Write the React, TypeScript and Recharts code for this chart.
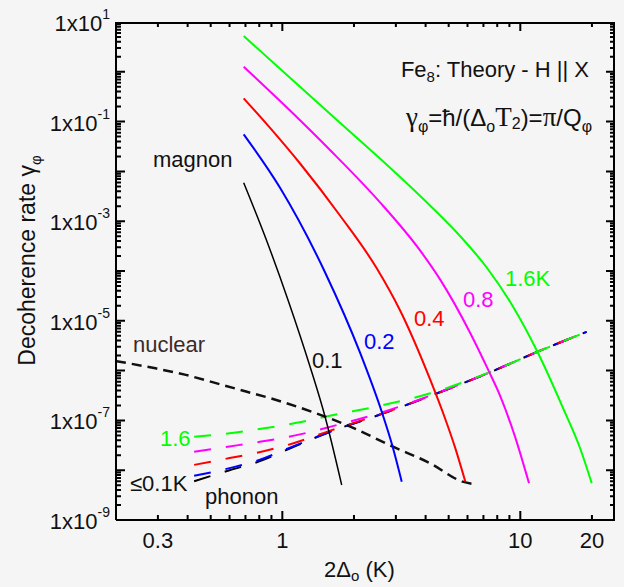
import React from "react";
import { LineChart, Line, XAxis, YAxis } from "recharts";

const FONT = "'Liberation Sans', Arial, Helvetica, sans-serif";
const SERIF = "'Liberation Serif', 'Times New Roman', serif";

// magnon contribution (solid), x = 2Δo in K, y = decoherence rate
const magnon01 = [
  { x: 0.688, y: 5.93e-3 },
  { x: 0.854, y: 4.39e-4 },
  { x: 1.06, y: 2.51e-5 },
  { x: 1.307, y: 1.21e-6 },
  { x: 1.511, y: 1.2e-7 },
  { x: 1.776, y: 5.05e-9 },
];
const magnon02 = [
  { x: 0.688, y: 0.0556 },
  { x: 0.978, y: 4.69e-3 },
  { x: 1.511, y: 9.46e-5 },
  { x: 2.121, y: 2.29e-6 },
  { x: 2.624, y: 1.43e-7 },
  { x: 2.89, y: 3.28e-8 },
  { x: 3.175, y: 5.88e-9 },
];
const magnon04 = [
  { x: 0.688, y: 0.2937 },
  { x: 0.888, y: 0.0747 },
  { x: 1.187, y: 0.01441 },
  { x: 1.747, y: 1.3e-3 },
  { x: 2.5, y: 1.11e-4 },
  { x: 3.122, y: 1.63e-5 },
  { x: 4.174, y: 6.72e-7 },
  { x: 4.83, y: 1.09e-7 },
  { x: 5.318, y: 2.87e-8 },
  { x: 5.875, y: 5.88e-9 },
];
const magnon08 = [
  { x: 0.688, y: 1.266 },
  { x: 1.077, y: 0.167 },
  { x: 1.586, y: 0.0269 },
  { x: 2.573, y: 2.39e-3 },
  { x: 3.79, y: 2.59e-4 },
  { x: 4.6, y: 6.78e-5 },
  { x: 6.15, y: 5.77e-6 },
  { x: 7.34, y: 1.02e-6 },
  { x: 8.22, y: 3.15e-7 },
  { x: 9.5, y: 4.71e-8 },
  { x: 10.88, y: 5.46e-9 },
];
const magnon16 = [
  { x: 0.688, y: 5.24 },
  { x: 1.077, y: 0.761 },
  { x: 1.747, y: 0.095 },
  { x: 2.835, y: 0.01187 },
  { x: 4.174, y: 2.07e-3 },
  { x: 5.58, y: 5.04e-4 },
  { x: 7.25, y: 1.15e-4 },
  { x: 9.23, y: 2.08e-5 },
  { x: 11.76, y: 2.47e-6 },
  { x: 15.12, y: 1.77e-7 },
  { x: 17.82, y: 2.79e-8 },
  { x: 19.96, y: 5.46e-9 },
];

// phonon contribution (long dashes)
const phononLow = [
  { x: 0.426, y: 6.0e-9 },
  { x: 0.6, y: 1.0e-8 },
  { x: 0.8, y: 1.5e-8 },
  { x: 1.05, y: 2.6e-8 },
  { x: 1.6, y: 6.0e-8 },
  { x: 2.62, y: 1.35e-7 },
  { x: 4.19, y: 3.1e-7 },
  { x: 7.4, y: 9.1e-7 },
  { x: 11.84, y: 2.4e-6 },
  { x: 19.0, y: 6.0e-6 },
];
const phonon02 = [
  { x: 0.426, y: 7.7e-9 },
  { x: 0.6, y: 1.1e-8 },
  { x: 0.8, y: 1.6e-8 },
  { x: 1.05, y: 2.7e-8 },
  { x: 1.6, y: 6.0e-8 },
  { x: 2.62, y: 1.35e-7 },
  { x: 4.19, y: 3.1e-7 },
  { x: 7.4, y: 9.1e-7 },
  { x: 11.84, y: 2.4e-6 },
  { x: 19.0, y: 6.0e-6 },
];
const phonon04 = [
  { x: 0.426, y: 1.28e-8 },
  { x: 0.6, y: 1.75e-8 },
  { x: 0.8, y: 2.3e-8 },
  { x: 1.05, y: 3.2e-8 },
  { x: 1.6, y: 6.3e-8 },
  { x: 2.62, y: 1.37e-7 },
  { x: 4.19, y: 3.1e-7 },
  { x: 7.4, y: 9.1e-7 },
  { x: 11.84, y: 2.4e-6 },
  { x: 19.0, y: 6.0e-6 },
];
const phonon08 = [
  { x: 0.426, y: 2.35e-8 },
  { x: 0.6, y: 3.0e-8 },
  { x: 0.8, y: 3.7e-8 },
  { x: 1.2, y: 5.3e-8 },
  { x: 1.6, y: 7.5e-8 },
  { x: 2.62, y: 1.45e-7 },
  { x: 4.19, y: 3.15e-7 },
  { x: 7.4, y: 9.1e-7 },
  { x: 11.84, y: 2.4e-6 },
  { x: 19.0, y: 6.0e-6 },
];
const phonon16 = [
  { x: 0.426, y: 4.7e-8 },
  { x: 0.6, y: 5.5e-8 },
  { x: 0.8, y: 6.7e-8 },
  { x: 1.2, y: 9.3e-8 },
  { x: 1.6, y: 1.25e-7 },
  { x: 2.62, y: 2.0e-7 },
  { x: 4.19, y: 3.5e-7 },
  { x: 7.4, y: 9.2e-7 },
  { x: 11.84, y: 2.4e-6 },
  { x: 19.0, y: 6.0e-6 },
];

// nuclear spin bath (short dashes)
const nuclear = [
  { x: 0.2, y: 1.55e-6 },
  { x: 0.293, y: 1.11e-6 },
  { x: 0.393, y: 8.2e-7 },
  { x: 0.526, y: 5.6e-7 },
  { x: 0.704, y: 3.8e-7 },
  { x: 0.943, y: 2.57e-7 },
  { x: 1.326, y: 1.5e-7 },
  { x: 1.93, y: 7.5e-8 },
  { x: 2.9, y: 3.0e-8 },
  { x: 4.19, y: 1.37e-8 },
  { x: 5.72, y: 5.9e-9 },
  { x: 6.5, y: 5.2e-9 },
];

const X_MIN = 0.2;
const X_MAX = 25;
const Y_MIN = 1e-9;
const Y_MAX = 10;

const xTicks = [0.2, 0.3, 0.4, 0.5, 0.6, 0.7, 0.8, 0.9, 1, 2, 3, 4, 5, 6, 7, 8, 9, 10, 20];
const xMajor = [1, 10];
const xLabels = [0.3, 1, 10, 20];
const yDecades = [-9, -8, -7, -6, -5, -4, -3, -2, -1, 0, 1];
const yLabelExps = [1, -1, -3, -5, -7, -9];

const yTicks: number[] = [];
yDecades.forEach((d) => {
  for (let k = 1; k <= 9; k++) {
    if (d === 1 && k > 1) break;
    yTicks.push(k * Math.pow(10, d));
  }
});

const decadeOf = (v: number) => {
  const l = Math.log10(v);
  return Math.abs(l - Math.round(l)) < 1e-6 ? Math.round(l) : null;
};

// inward tick lengths as factors along the log axes (about 9px / 5px)
const yLong = Math.pow(10, 9 / 49.8);
const yShort = Math.pow(10, 5 / 49.8);
const xLong = Math.pow(10, 9 / 238);
const xShort = Math.pow(10, 5 / 238);

// tick marks as zig-zag paths: out along the tick and back onto the frame
const bottomTicks = xTicks.flatMap((v) => {
  const f = xMajor.includes(v) ? yLong : yShort;
  return [
    { x: v, y: Y_MIN },
    { x: v, y: Y_MIN * f },
    { x: v, y: Y_MIN },
  ];
});
const topTicks = xTicks.flatMap((v) => {
  const f = xMajor.includes(v) ? yLong : yShort;
  return [
    { x: v, y: Y_MAX },
    { x: v, y: Y_MAX / f },
    { x: v, y: Y_MAX },
  ];
});
const leftTicks = yTicks.flatMap((v) => {
  const f = decadeOf(v) !== null ? xLong : xShort;
  return [
    { x: X_MIN, y: v },
    { x: X_MIN * f, y: v },
    { x: X_MIN, y: v },
  ];
});
const rightTicks = yTicks.flatMap((v) => {
  const f = decadeOf(v) !== null ? xLong : xShort;
  return [
    { x: X_MAX, y: v },
    { x: X_MAX / f, y: v },
    { x: X_MAX, y: v },
  ];
});
const topFrame = [
  { x: X_MIN, y: Y_MAX },
  { x: X_MAX, y: Y_MAX },
];
const rightFrame = [
  { x: X_MAX, y: Y_MIN },
  { x: X_MAX, y: Y_MAX },
];

const W = 624;
const H = 587;

const BottomTick = (props: any) => {
  const { x, y, payload } = props;
  const v = payload.value;
  if (!xLabels.includes(v)) return <g />;
  return (
    <text x={x} y={y + 20} textAnchor="middle" fontSize={22} fontFamily={FONT} fill="#111">
      {v}
    </text>
  );
};

const LeftTick = (props: any) => {
  const { x, y, payload } = props;
  const d = decadeOf(payload.value);
  if (d === null || !yLabelExps.includes(d)) return <g />;
  return (
    <text x={x + 2} y={y + 9} textAnchor="end" fontSize={22} fontFamily={FONT} fill="#111">
      1x10
      <tspan fontSize={14} dy={-12}>
        {d}
      </tspan>
    </text>
  );
};

// html label placed by its baseline
const Lbl = (p: { x: number; y: number; color?: string; size?: number; right?: boolean; children: any }) => {
  const size = p.size ?? 22;
  return (
    <div
      style={{
        position: "absolute",
        left: p.right ? undefined : p.x,
        right: p.right ? W - p.x : undefined,
        top: p.y - 0.8465 * size,
        fontSize: size,
        lineHeight: `${size}px`,
        color: p.color ?? "#111",
        fontFamily: FONT,
        whiteSpace: "nowrap",
      }}
    >
      {p.children}
    </div>
  );
};

const Sub = (p: { children: any; size?: number; drop?: number }) => (
  <span style={{ fontSize: p.size ?? 15, position: "relative", top: p.drop ?? 5 }}>{p.children}</span>
);

export default function App() {
  const solid = (data: any[], color: string, w = 2) => (
    <Line data={data} dataKey="y" type="monotone" stroke={color} strokeWidth={w} dot={false} isAnimationActive={false} />
  );
  const phonon = (data: any[], color: string) => (
    <Line
      data={data}
      dataKey="y"
      type="monotone"
      stroke={color}
      strokeWidth={2}
      strokeDasharray="17 15"
      dot={false}
      isAnimationActive={false}
    />
  );
  const segs = (data: any[], w: number) => (
    <Line data={data} dataKey="y" type="linear" stroke="#000" strokeWidth={w} dot={false} isAnimationActive={false} />
  );

  return (
    <div style={{ position: "absolute", left: 0, top: 0, width: W, height: H, background: "#f5f5f5" }}>
      <LineChart width={W} height={H} margin={{ top: 22, right: 9, bottom: 0, left: 0 }}>
        <XAxis
          dataKey="x"
          type="number"
          scale="log"
          domain={[X_MIN, X_MAX]}
          allowDataOverflow
          ticks={xTicks}
          interval={0}
          tickLine={{ stroke: "transparent" }}
          axisLine={{ stroke: "#000", strokeWidth: 2 }}
          tick={<BottomTick />}
          height={67}
        />
        <YAxis
          type="number"
          scale="log"
          domain={[Y_MIN, Y_MAX]}
          allowDataOverflow
          ticks={yTicks}
          interval={0}
          tickLine={{ stroke: "transparent" }}
          axisLine={{ stroke: "#000", strokeWidth: 2 }}
          tick={<LeftTick />}
          width={116}
        />
        {segs(topFrame, 4)}
        {segs(rightFrame, 4)}
        {segs(bottomTicks, 2)}
        {segs(topTicks, 2)}
        {segs(leftTicks, 2)}
        {segs(rightTicks, 2)}
        {phonon(phononLow, "#000000")}
        {phonon(phonon02, "#0000ff")}
        {phonon(phonon04, "#ff0000")}
        {phonon(phonon08, "#ff00ff")}
        {phonon(phonon16, "#00ff00")}
        <Line
          data={nuclear}
          dataKey="y"
          type="monotone"
          stroke="#111"
          strokeWidth={2.5}
          strokeDasharray="10 6"
          dot={false}
          isAnimationActive={false}
        />
        {solid(magnon01, "#000000", 1.5)}
        {solid(magnon02, "#0000ff")}
        {solid(magnon04, "#ff0000")}
        {solid(magnon08, "#ff00ff")}
        {solid(magnon16, "#00ff00")}
      </LineChart>

      <div
        style={{
          position: "absolute",
          left: -123,
          top: 248.5,
          width: 300,
          height: 23,
          fontSize: 23,
          lineHeight: "23px",
          textAlign: "center",
          fontFamily: FONT,
          color: "#111",
          whiteSpace: "nowrap",
          transform: "rotate(-90deg)",
        }}
      >
        Decoherence rate γ<Sub drop={6}>φ</Sub>
      </div>
      <Lbl x={324} y={578}>
        2Δ<Sub drop={4}>o</Sub> (K)
      </Lbl>
      <Lbl x={589} y={78} right>
        Fe<Sub>8</Sub>: Theory - H || X
      </Lbl>
      <Lbl x={592} y={125} right size={24}>
        <span style={{ fontFamily: SERIF, fontSize: 27 }}>γ</span>
        <Sub size={16} drop={6}>φ</Sub>=ħ/(Δ<Sub size={16} drop={6}>o</Sub>
        <span style={{ fontFamily: SERIF, fontSize: 27 }}>T</span>
        <Sub size={16} drop={3}>2</Sub>)=<span style={{ fontFamily: SERIF, fontSize: 27 }}>π</span>/Q
        <Sub size={16} drop={6}>φ</Sub>
      </Lbl>
      <Lbl x={153} y={168}>magnon</Lbl>
      <Lbl x={312} y={369}>0.1</Lbl>
      <Lbl x={364} y={350} color="#0000ff">0.2</Lbl>
      <Lbl x={414} y={327} color="#ff0000">0.4</Lbl>
      <Lbl x={463} y={308} color="#ff00ff">0.8</Lbl>
      <Lbl x={505} y={287} color="#00ff00">1.6K</Lbl>
      <Lbl x={133} y={353} color="#3a2a2a">nuclear</Lbl>
      <Lbl x={160} y={447} color="#00ff00">1.6</Lbl>
      <Lbl x={130} y={492}>≤0.1K</Lbl>
      <Lbl x={205} y={505}>phonon</Lbl>
    </div>
  );
}
